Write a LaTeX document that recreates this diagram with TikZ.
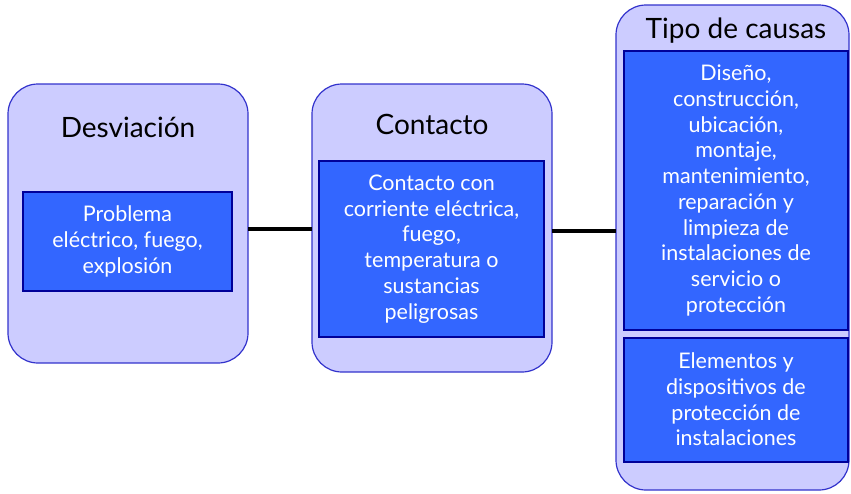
\documentclass[tikz,border=0pt]{standalone}
\usepackage{fontspec}
\setmainfont{Lato}
\begin{document}
\begin{tikzpicture}[x=1pt,y=-1pt,
  outerbox/.style={draw=outline,fill=outerfill,line width=1.2pt,rounded corners=30pt},
  innerbox/.style={draw=innerline,fill=innerfill,line width=1.2pt},
  innertext/.style={text=white,align=center,font=\fontsize{21.5}{25.7}\selectfont},
  titletext/.style={text=black,font=\fontsize{28}{32}\selectfont},
  link/.style={line width=3.2pt,black}]
\definecolor{outline}{HTML}{3333CC}
\definecolor{outerfill}{HTML}{CCCCFF}
\definecolor{innerline}{HTML}{000099}
\definecolor{innerfill}{HTML}{3366FF}
\useasboundingbox (0,0) rectangle (851,493);
% outer boxes
\draw[outerbox] (8,84) rectangle (248,363);
\draw[outerbox] (312,84) rectangle (552,372);
\draw[outerbox] (616,5) rectangle (849,490);
\node[coordinate] (o1) at (248,229) {};
\node[coordinate] (o2l) at (312,229) {};
\node[coordinate] (o2r) at (552,231) {};
\node[coordinate] (o3) at (616,231) {};
% inner boxes
\draw[innerbox] (23,192) rectangle (232,291);
\draw[innerbox] (319,161) rectangle (544,337);
\draw[innerbox] (624,51) rectangle (848,330);
\draw[innerbox] (624,338) rectangle (848,462);
% titles
\node[titletext] (t1) at (128,127) {Desviación};
\node[titletext] (t2) at (432,124) {Contacto};
\node[titletext] (t3) at (736,31) {Tipo de causas};
% texts
\node[innertext] (b1) at (127.5,241.5) {Problema\\eléctrico, fuego,\\explosión};
\node[innertext] (b2) at (431.5,249) {Contacto con\\corriente eléctrica,\\fuego,\\temperatura o\\sustancias\\peligrosas};
\node[innertext] (b3) at (736,190.5) {Diseño,\\construcción,\\ubicación,\\montaje,\\mantenimiento,\\reparación y\\limpieza de\\instalaciones de\\servicio o\\protección};
\node[innertext] (b4) at (736,399.5) {Elementos y\\dispositivos de\\protección de\\instalaciones};
% connectors
\draw[link] (o1) -- (o2l);
\draw[link] (o2r) -- (o3);
\end{tikzpicture}
\end{document}
